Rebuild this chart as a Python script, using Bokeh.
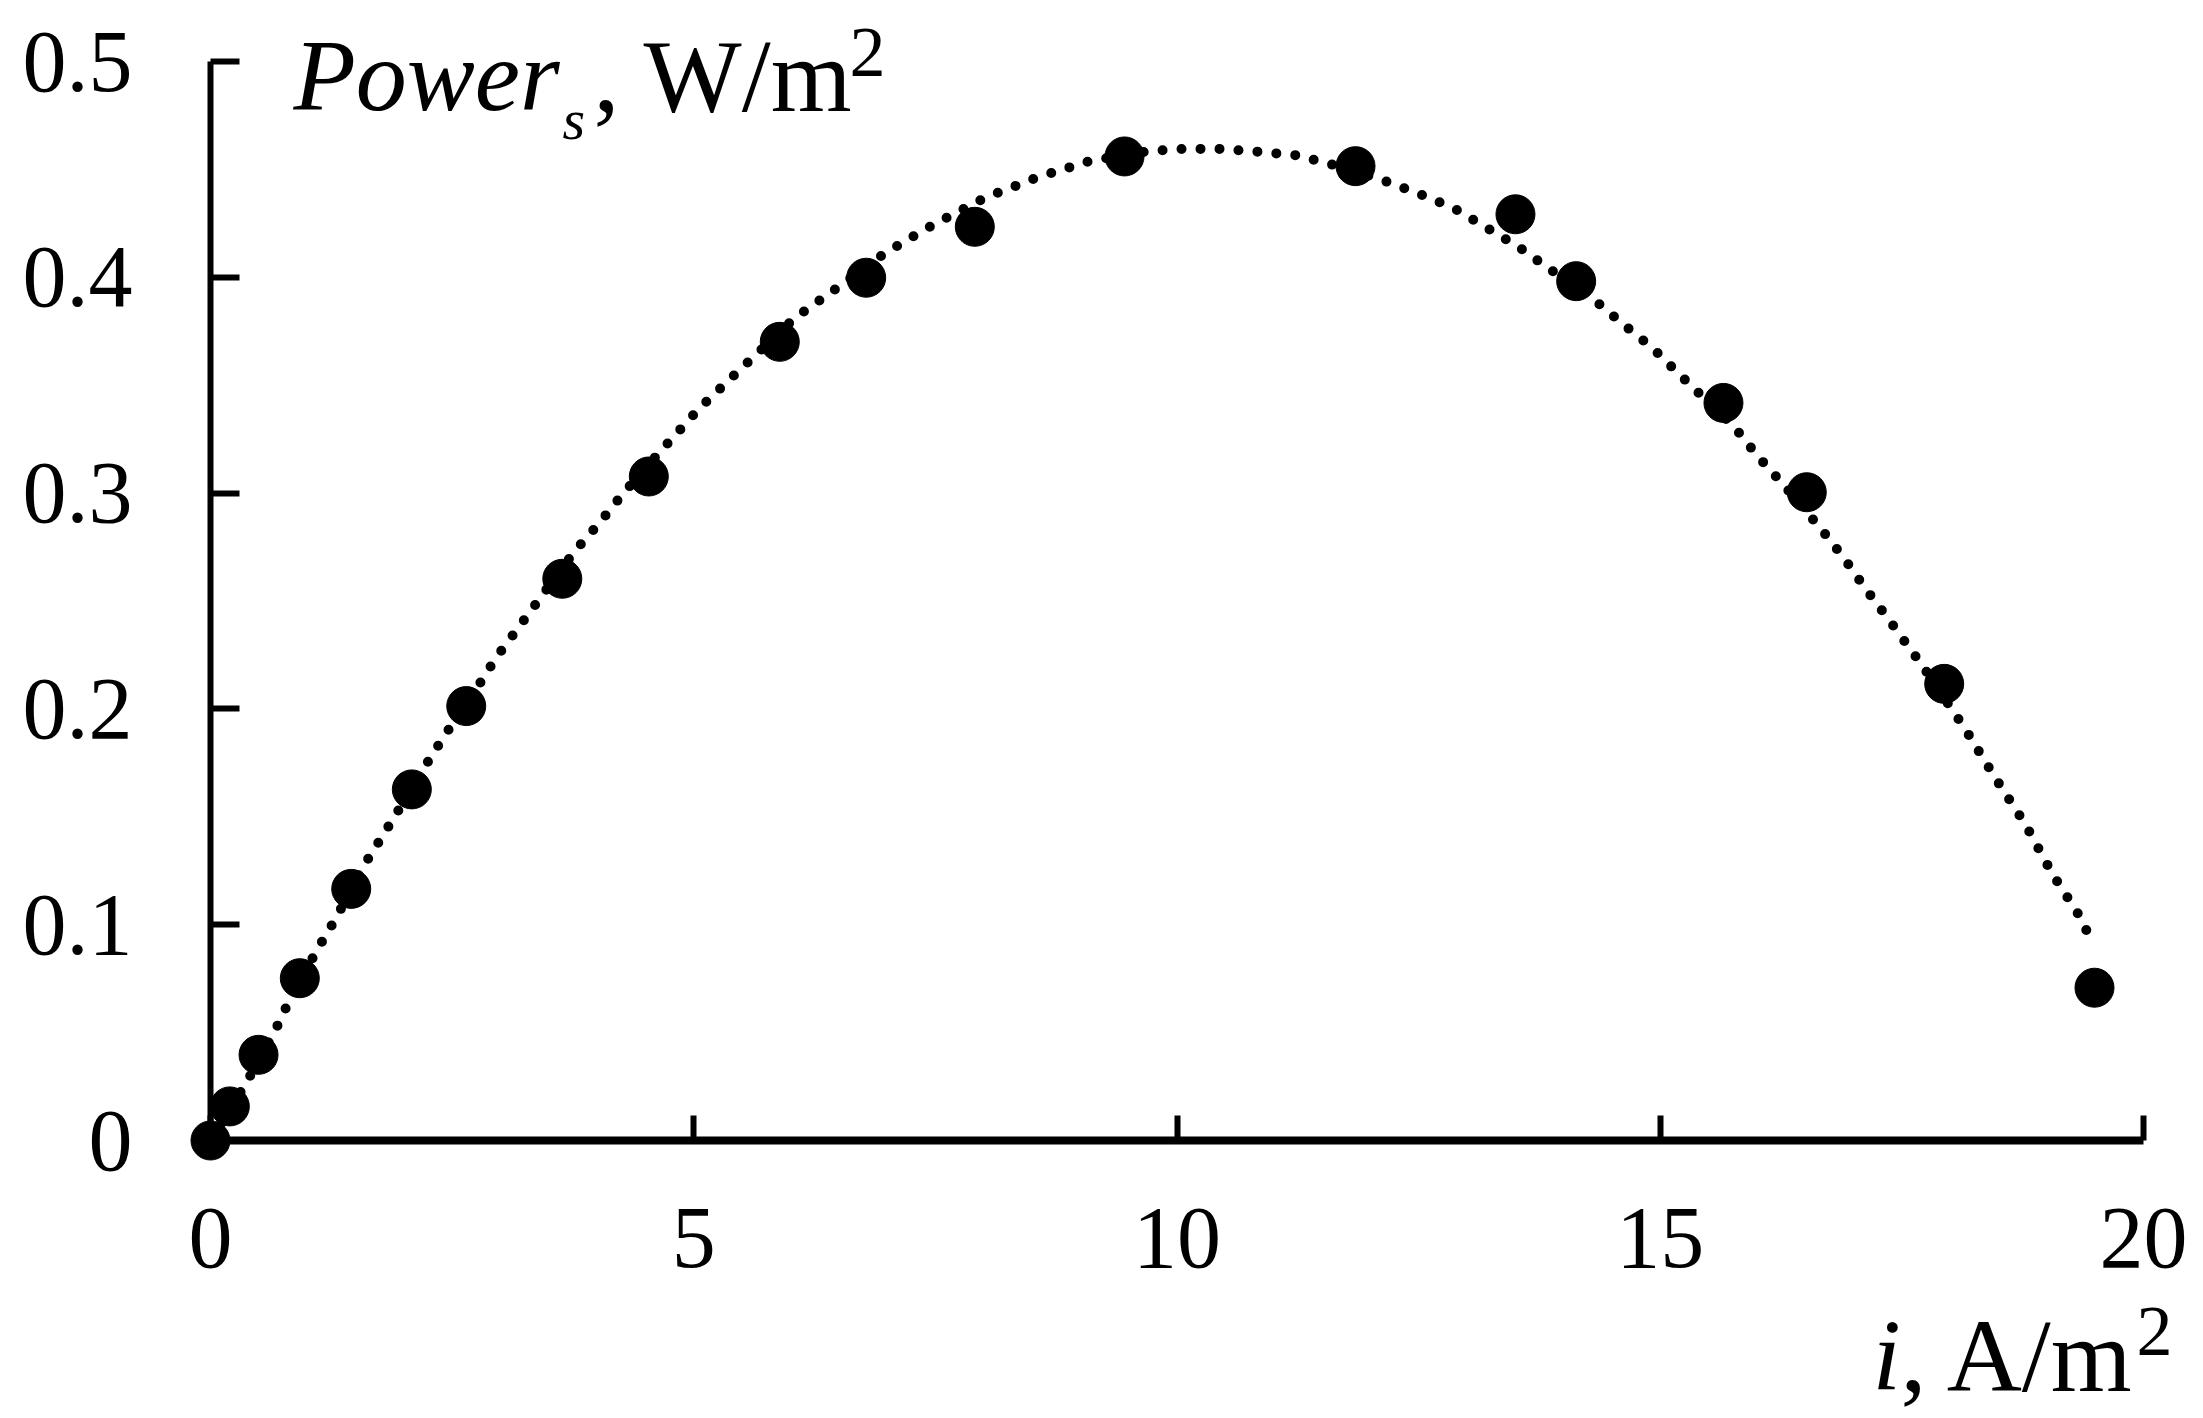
from bokeh.plotting import figure
from bokeh.models import Range1d, FixedTicker
from bokeh.core.properties import value
from bokeh.embed import file_html
from bokeh.resources import INLINE

# ---------------- data ----------------
current_density = [0.0, 0.200, 0.497, 0.924, 1.456, 2.083, 2.646, 3.640, 4.535, 5.890,
                   6.784, 7.908, 9.457, 11.847, 13.502, 14.130, 15.654, 16.516, 17.938, 19.493]
power_density = [0.0, 0.0158, 0.0397, 0.0752, 0.1166, 0.1627, 0.2013, 0.2603, 0.3077, 0.3701,
                 0.3998, 0.4234, 0.4560, 0.4515, 0.4292, 0.3982, 0.3418, 0.3004, 0.2116, 0.0708]

# dotted trend curve
curve_x = [0.0, 0.362, 0.652, 0.820, 1.104, 1.304, 1.583, 1.897, 2.201, 2.414, 2.752, 2.952,
           3.190, 3.418, 3.769, 4.028, 4.273, 4.666, 5.063, 5.481, 6.042, 6.508, 6.984, 7.494,
           8.011, 8.549, 9.092, 9.684, 10.054, 10.450, 10.840, 11.226, 11.599, 12.134, 12.499,
           12.858, 13.195, 13.533, 13.837, 14.337, 14.623, 14.923, 15.207, 15.765, 16.009,
           16.272, 16.658, 16.899, 17.124, 17.358, 17.706, 18.145, 18.455, 18.779, 19.059,
           19.379, 19.444]
curve_y = [0.0, 0.0261, 0.0494, 0.0652, 0.0884, 0.1035, 0.1271, 0.1495, 0.1721, 0.1871, 0.2093,
           0.2235, 0.2379, 0.2518, 0.2731, 0.2864, 0.3000, 0.3199, 0.3395, 0.3573, 0.3810, 0.3959,
           0.4114, 0.4248, 0.4368, 0.4462, 0.4538, 0.4583, 0.4595, 0.4595, 0.4582, 0.4566, 0.4523,
           0.4449, 0.4388, 0.4322, 0.4232, 0.4141, 0.4044, 0.3888, 0.3780, 0.3671, 0.3546, 0.3307,
           0.3171, 0.3040, 0.2837, 0.2700, 0.2557, 0.2418, 0.2204, 0.1914, 0.1688, 0.1464, 0.1234,
           0.1012, 0.0930]

x_ticks = [0, 5, 10, 15, 20]
x_tick_labels = ["0", "5", "10", "15", "20"]
y_ticks = [0.0, 0.1, 0.2, 0.3, 0.4, 0.5]
y_tick_labels = ["0", "0.1", "0.2", "0.3", "0.4", "0.5"]

# ---------------- layout ----------------
W, H = 2203, 1418
X0_PX, PX_PER_X = 210.0, 96.65      # canvas pixel of x=0 and pixels per unit
Y0_PX, PX_PER_Y = 1140.0, 2158.0    # canvas pixel of y=0 and pixels per unit

x_start = -X0_PX / PX_PER_X
x_end = x_start + W / PX_PER_X
y_end = Y0_PX / PX_PER_Y
y_start = y_end - H / PX_PER_Y


def dx(px):
    return (px - X0_PX) / PX_PER_X


def dy(py):
    return (Y0_PX - py) / PX_PER_Y


FONT = "Liberation Serif"

p = figure(width=W, height=H, x_range=Range1d(x_start, x_end), y_range=Range1d(y_start, y_end),
           output_backend="svg", toolbar_location=None, min_border=0,
           min_border_left=0, min_border_right=0, min_border_top=0, min_border_bottom=0,
           background_fill_color="white", border_fill_color="white", outline_line_color=None)
p.grid.visible = False

xa = p.xaxis[0]
ya = p.yaxis[0]
for ax in (xa, ya):
    ax.fixed_location = 0
    ax.axis_line_color = "black"
    ax.major_tick_line_color = "black"
    ax.major_tick_line_width = 6
    ax.major_tick_out = 0
    ax.minor_tick_line_color = None
    ax.major_label_text_font = FONT
    ax.major_label_text_font_size = "88px"
    ax.major_label_text_color = "black"

xa.bounds = (0, 20)
xa.axis_line_width = 8
xa.ticker = FixedTicker(ticks=x_ticks)
xa.major_label_overrides = {t: lab for t, lab in zip(x_ticks, x_tick_labels)}
xa.major_tick_in = 25
xa.major_label_standoff = 68

ya.bounds = (0, 0.5)
ya.axis_line_width = 6
ya.ticker = FixedTicker(ticks=y_ticks)
ya.major_label_overrides = {t: lab for t, lab in zip(y_ticks, y_tick_labels)}
ya.major_tick_in = 29
ya.major_label_standoff = 78

# dotted trend curve
p.line(curve_x, curve_y, line_color="black", line_width=10, line_dash="0 19", line_cap="round")

# measured points
p.scatter(current_density, power_density, size=39, marker="circle",
          fill_color="black", line_color="black")


# axis titles as rich text pieces (x: left edge, base: alphabetic baseline, in canvas px)
def txt(px, base, s, size_px, style="normal"):
    y_draw = base - 0.36 * size_px
    p.text(x=[dx(px)], y=[dy(y_draw)], text=[s], text_font=value(FONT),
           text_font_size=f"{size_px}px", text_font_style=style, text_color="black",
           text_align="left", text_baseline="alphabetic")


txt(293, 112, "Power", 102, "italic")
txt(562, 140, "s", 58, "italic")
txt(593, 112, ", W/m", 104)
txt(849, 78, "2", 72)

txt(1872, 1392, "i", 102, "italic")
txt(1900, 1392, ", A/m", 104)
txt(2136, 1357, "2", 72)

open("out.html", "w").write(file_html(p, INLINE))
